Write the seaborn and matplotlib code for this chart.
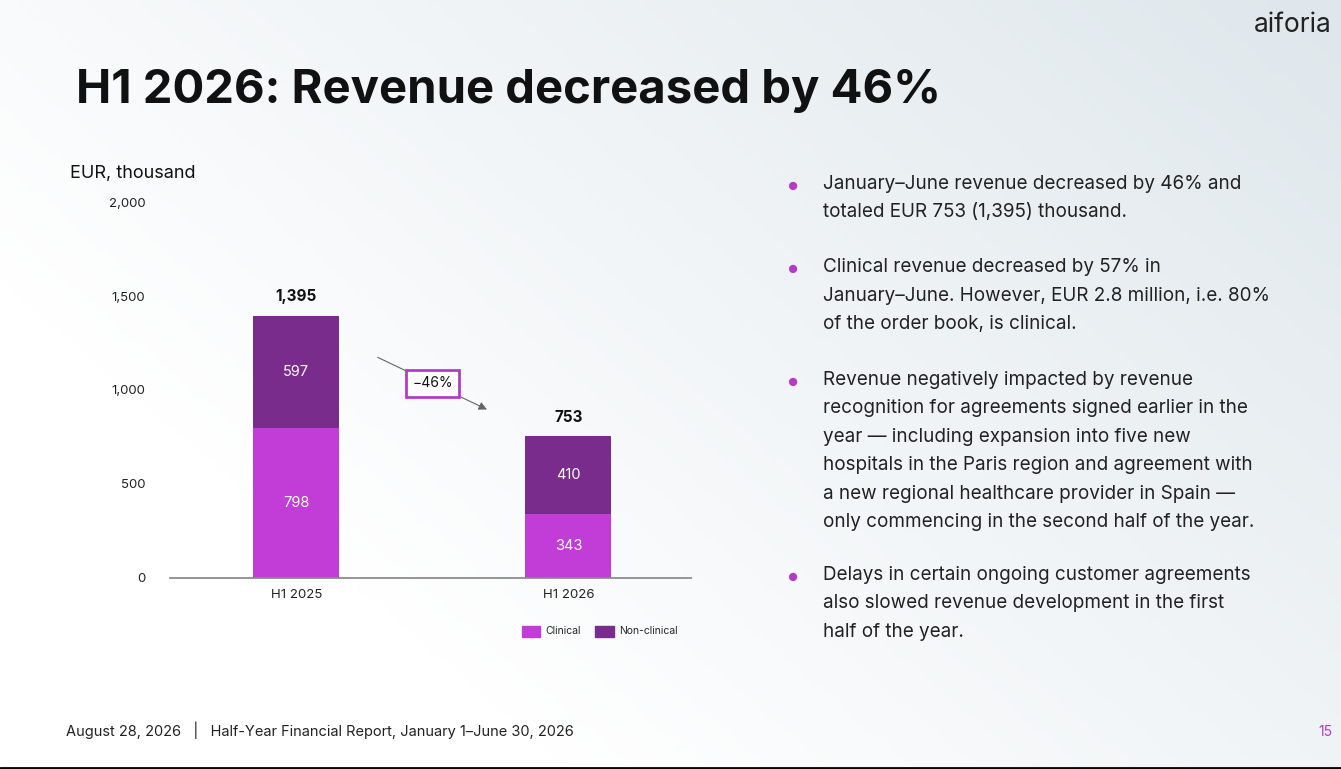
import numpy as np
import pandas as pd
import matplotlib
matplotlib.use("Agg")
import matplotlib.pyplot as plt
import seaborn as sns

periods = ["H1 2025", "H1 2026"]
clinical = [798, 343]
non_clinical = [597, 410]
totals = [1395, 753]
yticks = [0, 500, 1000, 1500, 2000]
bullets = [
    "January\u2013June revenue decreased by 46% and\ntotaled EUR 753 (1,395) thousand.",
    "Clinical revenue decreased by 57% in\nJanuary\u2013June. However, EUR 2.8 million, i.e. 80%\nof the order book, is clinical.",
    "Revenue negatively impacted by revenue\nrecognition for agreements signed earlier in the\nyear \u2014 including expansion into five new\nhospitals in the Paris region and agreement with\na new regional healthcare provider in Spain \u2014\nonly commencing in the second half of the year.",
    "Delays in certain ongoing customer agreements\nalso slowed revenue development in the first\nhalf of the year.",
]

sns.set_theme(style="white")
plt.rcParams["font.family"] = ["Inter", "DejaVu Sans"]

C_CLIN = "#C23DD8"
C_NON = "#7A2C8C"
PURPLE = "#B23CC8"

fig = plt.figure(figsize=(13.41, 7.69), dpi=100)

# background gradient
bg = fig.add_axes([0, 0, 1, 1], zorder=-10)
gx = np.linspace(0, 1, 200)
gy = np.linspace(0, 1, 120)
X, Y = np.meshgrid(gx, gy)
val = np.clip(0.6 * X + 0.4 * (1 - Y) - 0.25, 0, 1)
cmap = matplotlib.colors.LinearSegmentedColormap.from_list("bg", ["#ffffff", "#dfe7ec"])
bg.imshow(val, cmap=cmap, aspect="auto", extent=[0, 1, 0, 1], origin="upper")
bg.axhline(0.0015, color="black", lw=2)
bg.set_axis_off()

ax = fig.add_axes([0.127, 0.2484, 0.388, 0.4889])
df = pd.DataFrame({"period": periods, "clinical": clinical,
                   "non": non_clinical, "total": [c + n for c, n in zip(clinical, non_clinical)]})
sns.barplot(data=df, x="period", y="total", color=C_NON, width=0.316, ax=ax, saturation=1, linewidth=0)
sns.barplot(data=df, x="period", y="clinical", color=C_CLIN, width=0.316, ax=ax, saturation=1, linewidth=0)
ax.set_facecolor("none")
ax.set_xlim(-0.463, 1.449)
ax.set_ylim(0, 2000)
ax.set_yticks(yticks)
ax.set_yticklabels([f"{v:,}" for v in yticks], fontsize=9.5, color="#222222")
ax.tick_params(axis="y", pad=18, length=0)
ax.tick_params(axis="x", labelsize=9.5, length=0, pad=8, colors="#222222")
ax.set_xlabel("")
ax.set_ylabel("")
for s in ["top", "right", "left"]:
    ax.spines[s].set_visible(False)
ax.spines["bottom"].set_color("#888888")

for i in range(len(periods)):
    ax.text(i, clinical[i] / 2, f"{clinical[i]}", ha="center", va="center", color="white", fontsize=10.5)
    ax.text(i, clinical[i] + non_clinical[i] / 2, f"{non_clinical[i]}", ha="center", va="center", color="white", fontsize=10.5)
    ax.text(i, totals[i] + 60, f"{totals[i]:,}", ha="center", va="bottom", fontsize=11, fontweight="bold", color="#111111")

ax.annotate("", xy=(0.71, 890), xytext=(0.29, 1180),
            arrowprops=dict(arrowstyle="-|>", color="#666666", lw=0.8))
ax.text(0.5, 1035, "\u221246%", ha="center", va="center", fontsize=10, color="#111111",
        bbox=dict(boxstyle="square,pad=0.45", fc="white", ec=PURPLE, lw=2))

fig.text(0.052, 0.775, "EUR, thousand", fontsize=13, color="#111111", va="center")

# legend
fig.patches.append(matplotlib.patches.Rectangle((0.389, 0.172), 0.014, 0.014, color=C_CLIN, transform=fig.transFigure))
fig.text(0.407, 0.179, "Clinical", fontsize=7.5, va="center")
fig.patches.append(matplotlib.patches.Rectangle((0.444, 0.172), 0.014, 0.014, color=C_NON, transform=fig.transFigure))
fig.text(0.462, 0.179, "Non-clinical", fontsize=7.5, va="center")

fig.text(0.057, 0.882, "H1 2026: Revenue decreased by 46%", fontsize=34, fontweight="bold", color="#111111", va="center")
fig.text(0.993, 0.968, "aiforia", fontsize=19, color="#222222", ha="right", va="center")

ys = [0.773, 0.664, 0.518, 0.264]
for y, b in zip(ys, bullets):
    fig.text(0.587, y - 0.009, "\u25cf", fontsize=8, color=PURPLE, va="top")
    fig.text(0.614, y, b, fontsize=13.6, color="#222222", va="top", linespacing=1.75)

fig.text(0.049, 0.05, "August 28, 2026   |   Half-Year Financial Report, January 1\u2013June 30, 2026",
         fontsize=10.5, color="#222222", va="center")
fig.text(0.994, 0.048, "15", fontsize=10, color=PURPLE, ha="right", va="center")

fig.savefig("out.png", dpi=100)
